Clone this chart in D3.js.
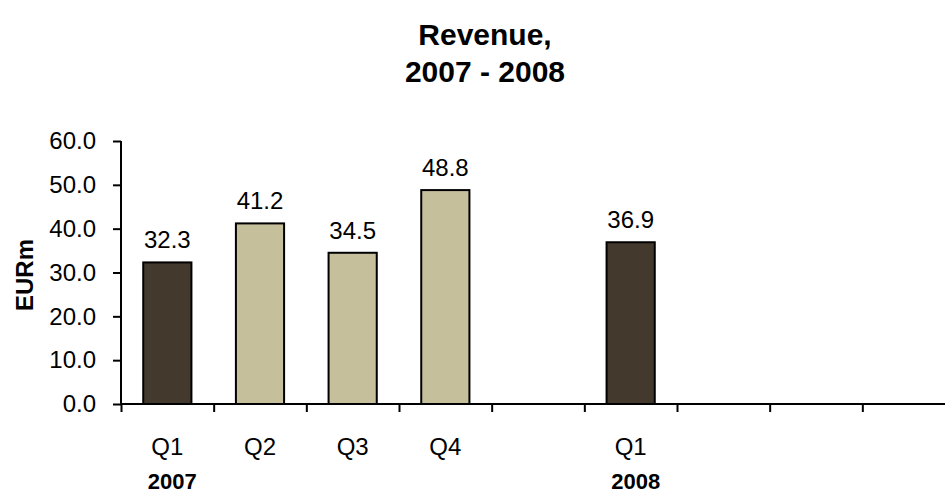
<!DOCTYPE html>
<html>
<head>
<meta charset="utf-8">
<script src="https://cdn.jsdelivr.net/npm/d3@7"></script>
<style>
  html, body { margin: 0; padding: 0; background: #fff; }
  svg { display: block; font-family: "Liberation Sans", Arial, sans-serif; }
</style>
</head>
<body>
<svg id="chart" width="945" height="493"></svg>
<script>
// Quarterly revenue, EURm
const quarters = ["Q1", "Q2", "Q3", "Q4", "", "Q1", "", "", ""];
const years    = ["2007", "", "", "", "", "2008", "", "", ""];
const revenue  = [32.3, 41.2, 34.5, 48.8, null, 36.9, null, null, null];
const yTicks   = [0, 10, 20, 30, 40, 50, 60];
const titleLines = ["Revenue,", "2007 - 2008"];
const yLabel = "EURm";

const svg = d3.select("#chart");
const plot = { left: 121, right: 955, top: 141, bottom: 404 };

const slots = d3.range(quarters.length);
const x = d3.scaleBand().domain(slots).range([plot.left, plot.right]).padding(0);
const edge = d3.scaleLinear().domain([0, slots.length]).range([plot.left, plot.right]);
const y = d3.scaleLinear().domain([0, 60]).range([plot.bottom, plot.top]);

const barW = x.bandwidth() * 0.52;
const dark = "#433a2d", light = "#c6bf9b";

// Title
svg.append("g").selectAll("text").data(titleLines).join("text")
  .attr("x", 485).attr("y", (d, i) => 45 + i * 37)
  .attr("text-anchor", "middle")
  .attr("font-size", 30).attr("font-weight", "bold")
  .text(d => d);

// Bars
const bars = slots.filter(i => revenue[i] != null);
svg.append("g").selectAll("rect").data(bars).join("rect")
  .attr("x", i => x(i) + (x.bandwidth() - barW) / 2)
  .attr("y", i => y(revenue[i]))
  .attr("width", barW)
  .attr("height", i => y(0) - y(revenue[i]))
  .attr("fill", i => quarters[i] === "Q1" ? dark : light)
  .attr("stroke", "#000").attr("stroke-width", 2);

// Value labels
svg.append("g").selectAll("text").data(bars).join("text")
  .attr("x", i => x(i) + x.bandwidth() / 2)
  .attr("y", i => y(revenue[i]) - 14)
  .attr("text-anchor", "middle")
  .attr("font-size", 24)
  .text(i => d3.format(".1f")(revenue[i]));

// Y axis
const yAxis = svg.append("g").attr("transform", `translate(${plot.left},0)`)
  .call(d3.axisLeft(y).tickValues(yTicks).tickFormat(d3.format(".1f"))
    .tickSize(8).tickPadding(17));
yAxis.select(".domain").attr("d", `M0,${plot.top}V${plot.bottom}`).attr("stroke", "#000").attr("stroke-width", 2);
yAxis.selectAll(".tick line").attr("stroke", "#000").attr("stroke-width", 2);
yAxis.selectAll(".tick text").attr("font-size", 24).attr("font-family", null).attr("fill", "#000");

// X axis: category boundary ticks
const xAxis = svg.append("g").attr("transform", `translate(0,${plot.bottom})`)
  .call(d3.axisBottom(edge).tickValues(d3.range(slots.length + 1)).tickFormat("").tickSize(8));
xAxis.select(".domain").attr("d", `M${plot.left},0H${plot.right}`).attr("stroke", "#000").attr("stroke-width", 2);
xAxis.selectAll(".tick line").attr("stroke", "#000").attr("stroke-width", 2);

// Quarter labels
const qAxis = svg.append("g").attr("transform", `translate(0,${plot.bottom})`)
  .call(d3.axisBottom(x).tickFormat(i => quarters[i]).tickSize(0).tickPadding(34));
qAxis.select(".domain").remove();
qAxis.selectAll(".tick text").attr("font-size", 24).attr("font-family", null).attr("fill", "#000");

// Year labels
svg.append("g").selectAll("text").data(slots.filter(i => years[i])).join("text")
  .attr("x", i => x(i) + x.bandwidth() / 2 + 5)
  .attr("y", 489)
  .attr("text-anchor", "middle")
  .attr("font-size", 22).attr("font-weight", "bold")
  .text(i => years[i]);

// Y axis title
svg.append("text")
  .attr("transform", "translate(33,275) rotate(-90)")
  .attr("text-anchor", "middle")
  .attr("font-size", 24).attr("font-weight", "bold")
  .text(yLabel);
</script>
</body>
</html>
